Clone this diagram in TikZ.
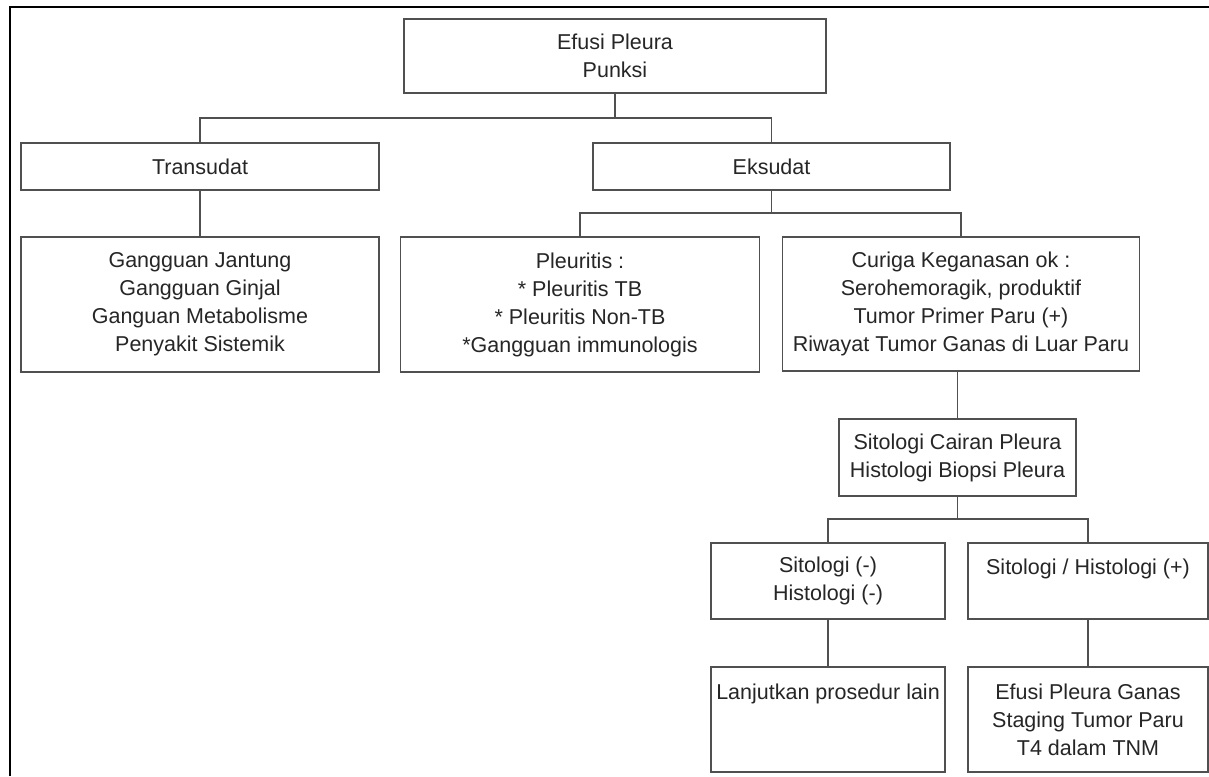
\documentclass[tikz,border=0pt]{standalone}
\usepackage{fontspec}
\setmainfont{Liberation Sans}
\begin{document}
\begin{tikzpicture}[x=1pt,y=-1pt,
  box/.style={draw=boxgray,line width=1.3pt,rectangle,inner sep=0pt,
    align=center,text=txtgray,font=\fontsize{21.5}{28}\selectfont},
  link/.style={draw=boxgray,line width=1.3pt},
  frame/.style={draw=black,line width=2.4pt}]
\definecolor{boxgray}{HTML}{505050}
\definecolor{txtgray}{HTML}{262626}
\useasboundingbox (0,0) rectangle (1209,776);
\fill[white] (0,0) rectangle (1209,776);

% page frame (left and top edges)
\draw[frame] (10,776) -- (10,7) -- (1209,7);

% boxes
\node[box,minimum width=422,minimum height=74] (top) at (615,56) {Efusi Pleura\\Punksi};
\node[box,minimum width=358,minimum height=47] (trans) at (200,166.5) {Transudat};
\node[box,minimum width=357,minimum height=47] (eks) at (771.5,166.5) {Eksudat};
\node[box,minimum width=358,minimum height=135] (gang) at (200,304.5)
  {Gangguan Jantung\\Gangguan Ginjal\\Ganguan Metabolisme\\Penyakit Sistemik};
\node[box,minimum width=359,minimum height=135] (pleur) at (580,304.5)
  {Pleuritis :\\* Pleuritis TB\\* Pleuritis Non-TB\\*Gangguan immunologis};
\node[box,minimum width=357,minimum height=134] (curiga) at (961,304)
  {Curiga Keganasan ok :\\Serohemoragik, produktif\\Tumor Primer Paru (+)\\Riwayat Tumor Ganas di Luar Paru};
\node[box,minimum width=237,minimum height=77] (sito) at (957.5,457.5)
  {Sitologi Cairan Pleura\\Histologi Biopsi Pleura};
\node[box,minimum width=234,minimum height=76] (neg) at (828,581)
  {Sitologi (-)\\Histologi (-)};
\node[box,minimum width=240,minimum height=76] (pos) at (1088,581)
  {Sitologi / Histologi (+)\\\mbox{}};
\node[box,minimum width=234,minimum height=105] (lanj) at (828,719.5)
  {Lanjutkan prosedur lain\\\mbox{}\\\mbox{}};
\node[box,minimum width=240,minimum height=105] (ganas) at (1088,719.5)
  {Efusi Pleura Ganas\\Staging Tumor Paru\\T4 dalam TNM};

% branching points
\coordinate (bus1) at (615,118);
\coordinate (bus2) at (771.5,213);
\coordinate (bus3) at (957.5,519);

% connectors
\draw[link] (top.south) -- (bus1);
\draw[link] (trans.north) |- (bus1) -| (eks.north);
\draw[link] (trans.south) -- (gang.north);
\draw[link] (eks.south) -- (bus2);
\draw[link] (pleur.north) |- (bus2) -| (curiga.north);
\draw[link] (sito.north) -- (sito.north |- curiga.south);
\draw[link] (sito.south) -- (bus3);
\draw[link] (neg.north) |- (bus3) -| (pos.north);
\draw[link] (neg.south) -- (lanj.north);
\draw[link] (pos.south) -- (ganas.north);
\end{tikzpicture}
\end{document}
